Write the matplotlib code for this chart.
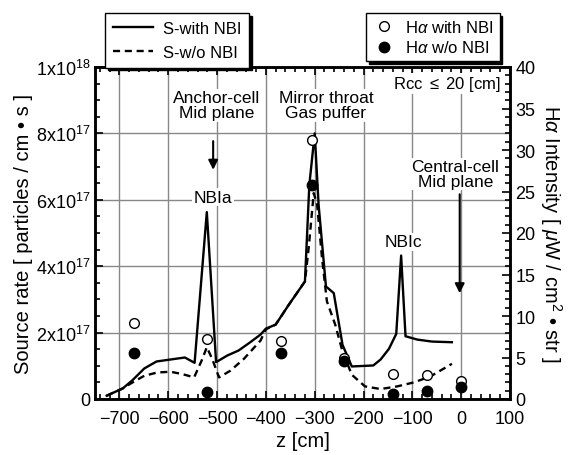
import matplotlib
matplotlib.use("Agg")
import matplotlib.pyplot as plt
from matplotlib.ticker import MultipleLocator, FixedLocator

plt.rcParams['font.family'] = ['Liberation Sans', 'DejaVu Sans']
plt.rcParams['mathtext.fontset'] = 'custom'
plt.rcParams['mathtext.rm'] = 'Liberation Sans'
plt.rcParams['mathtext.it'] = 'Liberation Sans:italic'

# ---- data ----
z_with = [-726, -693, -673, -649, -624, -595, -566, -546, -521, -502, -479, -456,
          -432, -411, -400, -380, -353, -320, -311, -300, -292, -277, -261, -243,
          -224, -180, -165, -148, -133, -123, -114, -90, -60, -19]
s_with = [0.10, 0.32, 0.57, 0.92, 1.13, 1.19, 1.25, 1.09, 5.63, 1.11, 1.31, 1.46,
          1.71, 1.94, 2.12, 2.24, 2.84, 3.54, 6.45, 8.00, 5.85, 3.39, 3.19, 1.63,
          0.98, 1.01, 1.19, 1.51, 1.96, 4.32, 1.89, 1.79, 1.73, 1.71]

z_wo = [-726, -693, -673, -649, -622, -595, -571, -547, -530, -521, -510, -496,
        -473, -445, -411, -400, -380, -353, -320, -312, -302, -295, -285, -275,
        -258, -243, -224, -197, -165, -131, -97, -63, -19]
s_wo = [0.10, 0.32, 0.50, 0.70, 0.80, 0.82, 0.75, 0.65, 1.21, 1.56, 1.21, 0.65,
        0.85, 1.21, 1.76, 2.10, 2.24, 2.84, 3.54, 4.60, 6.20, 5.85, 4.24, 2.94,
        2.24, 1.43, 0.73, 0.38, 0.30, 0.38, 0.50, 0.68, 1.06]

z_ha = [-670, -521, -370, -305, -241, -140, -70, 0]
ha_with = [9.2, 7.2, 7.0, 31.2, 4.9, 3.0, 2.9, 2.2]
ha_wo = [5.5, 0.8, 5.6, 25.8, 4.6, 0.6, 1.0, 1.5]

ytick_vals = [0, 2e17, 4e17, 6e17, 8e17, 1e18]
ytick_labels = ['0', r'2x10$^{17}$', r'4x10$^{17}$', r'6x10$^{17}$', r'8x10$^{17}$', r'1x10$^{18}$']

scale = 1e17

fig = plt.figure(figsize=(5.88, 4.56), dpi=100)
ax = fig.add_axes([95/588, 56/456, 415/588, 332/456])

ax.set_xlim(-750, 100)
ax.set_ylim(0, 1e18)
ax.grid(True, color='#888888', lw=1.0, zorder=0)
ax.set_axisbelow(True)

l1, = ax.plot(z_with, [v*scale for v in s_with], color='black', lw=1.7, ls='-', label='S-with NBI', zorder=3)
l2, = ax.plot(z_wo, [v*scale for v in s_wo], color='black', lw=1.7, ls=(0, (3, 2)), label='S-w/o NBI', zorder=3)

ax.xaxis.set_major_locator(MultipleLocator(100))
ax.xaxis.set_minor_locator(MultipleLocator(20))
ax.yaxis.set_major_locator(FixedLocator(ytick_vals))
ax.set_yticklabels(ytick_labels)
ax.yaxis.set_minor_locator(MultipleLocator(0.5e17))
ax.tick_params(which='both', direction='in', top=True, right=False, labelsize=13, width=1.2)
ax.tick_params(which='major', length=6)
ax.tick_params(which='minor', length=3.5)
ax.tick_params(axis='x', pad=8)
ax.tick_params(axis='y', pad=3)
for s in ax.spines.values():
    s.set_linewidth(1.8)

ax.set_xlabel('z [cm]', fontsize=14.5, labelpad=3)
ax.set_ylabel('Source rate [ particles / cm \u2022 s ]', fontsize=14.5, labelpad=2)

ax2 = ax.twinx()
ax2.set_ylim(0, 40)
ax2.yaxis.set_major_locator(MultipleLocator(5))
ax2.yaxis.set_minor_locator(MultipleLocator(1))
ax2.tick_params(which='both', direction='in', labelsize=13, width=1.2, pad=4)
ax2.tick_params(which='major', length=6)
ax2.tick_params(which='minor', length=3.5)
for s in ax2.spines.values():
    s.set_linewidth(1.8)
m1, = ax2.plot(z_ha, ha_with, ls='none', marker='o', ms=7, mfc='white', mec='black', mew=1.0,
               label=r'H$\alpha$ with NBI', zorder=4)
m2, = ax2.plot(z_ha, ha_wo, ls='none', marker='o', ms=7.5, mfc='black', mec='black',
               label=r'H$\alpha$ w/o NBI', zorder=5)
ax2.set_ylabel(r'H$\alpha$ Intensity [ $\mu$W / cm$^2$ ' + '\u2022 str ]', fontsize=14.5,
               rotation=270, labelpad=20)

# annotations
bb = dict(facecolor='white', edgecolor='none', pad=1)
fs_ann = 12.5
ax.text(-277, 8.85e17, 'Mirror throat\nGas puffer', ha='center', va='center', fontsize=fs_ann,
        linespacing=1.0, bbox=bb, zorder=2)
ax.text(-500, 8.85e17, 'Anchor-cell\nMid plane', ha='center', va='center', fontsize=fs_ann,
        linespacing=1.0, bbox=bb, zorder=2)
ax.annotate('', xy=(-508, 6.82e17), xytext=(-508, 7.85e17),
            arrowprops=dict(arrowstyle='-|>', color='black', lw=1.5, mutation_scale=14), zorder=3)
ax.text(-508, 6.08e17, 'NBIa', ha='center', va='center', fontsize=fs_ann, bbox=bb, zorder=2)
ax.text(-118, 4.73e17, 'NBIc', ha='center', va='center', fontsize=fs_ann, bbox=bb, zorder=2)
ax.text(-12, 6.78e17, 'Central-cell\nMid plane', ha='center', va='center', fontsize=fs_ann,
        linespacing=1.0, bbox=bb, zorder=2)
ax.annotate('', xy=(-3, 3.1e17), xytext=(-3, 6.25e17),
            arrowprops=dict(arrowstyle='-|>', color='black', lw=1.5, mutation_scale=14), zorder=3)
ax.text(82, 9.5e17, r'Rcc $\leq$ 20 [cm]', ha='right', va='center', fontsize=12, bbox=bb, zorder=2)

shadow = {'color': 'black', 'alpha': 1, 'ox': 2, 'oy': -2}
leg1 = fig.legend(handles=[l1, l2], loc='upper left', bbox_to_anchor=(97/588, 1-6/456),
                  fontsize=12, frameon=True, fancybox=False, edgecolor='black',
                  handlelength=2.4, borderpad=0.45, labelspacing=0.55, handletextpad=0.6,
                  shadow=shadow)
leg1.get_frame().set_linewidth(1.0)
leg2 = fig.legend(handles=[m1, m2], loc='upper right', bbox_to_anchor=(508/588, 1-6/456),
                  fontsize=12, frameon=True, fancybox=False, edgecolor='black',
                  handlelength=1.4, borderpad=0.35, labelspacing=0.25, handletextpad=0.6,
                  shadow=shadow)
leg2.get_frame().set_linewidth(1.0)

fig.savefig('out.png', dpi=100)
